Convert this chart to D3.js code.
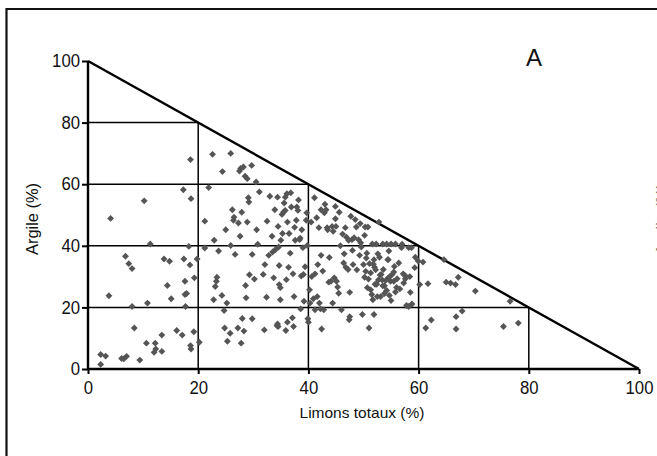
<!DOCTYPE html>
<html><head><meta charset="utf-8">
<script src="https://cdn.jsdelivr.net/npm/d3@7"></script>
<style>
html,body{margin:0;padding:0;background:#fff;overflow:hidden}
text{font-family:"Liberation Sans","Arial",sans-serif}
</style></head><body>
<svg id="c" width="657" height="456"></svg>
<script>
const xTicks = [0, 20, 40, 60, 80, 100];
const yTicks = [0, 20, 40, 60, 80, 100];
const gridLevels = [20, 40, 60, 80];
const xLabel = "Limons totaux (%)";
const yLabel = "Argile (%)";
const panelLabel = "A";
// Limons totaux (%)
const limons = [2.3,2.3,3.2,3.8,4.1,6.1,6.5,7.0,6.8,7.4,8.0,8.0,8.4,9.4,10.2,10.6,10.8,11.3,12.0,12.2,12.3,13.4,13.4,13.8,14.4,14.8,15.1,16.1,17.1,17.3,17.4,17.6,17.6,17.9,17.7,18.6,18.7,18.3,18.6,18.7,18.5,19.2,19.3,19.8,20.2,21.2,21.2,21.9,22.6,22.8,22.9,23.1,23.3,23.4,23.7,24.3,24.4,24.7,24.8,25.0,25.2,25.3,25.8,25.9,25.9,26.2,26.4,26.5,26.7,27.2,27.3,27.5,27.6,27.7,27.8,27.9,28.0,28.2,28.3,28.5,28.6,28.7,28.9,28.9,29.1,29.2,29.3,29.7,29.8,29.8,30.2,30.5,30.6,30.8,31.1,31.8,32.0,32.1,32.4,32.5,32.8,33.0,33.4,33.5,33.7,33.9,34.0,34.3,34.4,34.5,34.4,34.5,34.6,34.7,34.7,34.9,34.9,35.0,35.2,35.3,35.6,35.8,35.8,35.9,36.1,36.2,36.2,36.4,36.5,36.7,36.8,36.9,37.1,37.2,37.3,37.4,37.6,37.8,37.9,38.1,38.2,38.4,38.6,38.7,38.8,39.0,39.1,39.2,39.4,39.6,39.7,39.8,39.9,40.0,40.2,40.3,40.5,40.6,40.9,41.1,41.2,41.2,41.5,41.6,41.7,41.9,42.0,42.2,42.3,42.3,42.4,42.6,42.8,42.9,43.2,43.4,43.5,43.7,43.8,44.1,44.3,44.4,44.5,44.7,44.9,44.9,45.0,45.1,45.3,45.5,45.6,46.0,46.2,46.4,46.5,46.7,46.8,46.9,47.2,47.3,47.4,47.5,47.5,47.7,47.9,48.1,48.3,48.5,48.7,48.8,49.1,49.3,49.4,49.6,49.8,50.0,50.2,50.2,50.3,50.4,50.6,50.7,50.8,50.9,51.1,51.3,51.3,51.5,51.6,51.7,51.9,51.9,52.1,52.2,52.3,52.5,52.6,52.7,52.8,52.9,53.1,53.2,53.4,53.5,53.6,53.8,54.0,54.2,54.2,54.4,54.5,54.6,54.7,54.9,55.0,55.0,55.2,55.5,55.6,55.8,56.1,56.4,56.6,56.9,57.0,57.2,57.3,57.5,57.6,57.8,58.2,58.2,58.4,58.5,58.7,58.8,59.3,59.4,59.9,60.2,60.8,61.3,61.7,62.3,64.6,65.0,65.8,66.7,66.8,66.8,67.2,67.9,70.3,75.4,76.6,78.1,
 51.0,52.0,53.0,53.5,54.5,55.5,56.0,50.5,52.4,53.8,54.8,55.8,51.8,36.0,37.5,35.5,38.5,43.0,45.8,48.0,49.5];
// Argile (%)
const argile = [1.5,4.7,4.2,23.8,48.9,3.4,3.3,4.1,36.6,34.2,32.6,20.3,13.3,2.9,54.6,8.4,21.4,40.6,5.4,8.4,6.5,5.7,11.0,35.7,27.1,35.0,22.8,12.5,11.0,58.2,35.7,28.5,24.2,24.5,20.3,7.6,6.5,39.8,68.0,55.3,33.8,12.1,29.6,35.7,8.7,39.3,48.0,58.9,69.7,22.5,41.8,26.8,28.5,29.8,38.3,23.9,64.1,19.0,13.3,45.2,21.4,9.0,11.6,70.0,40.1,51.7,48.3,49.3,37.2,13.3,47.4,64.3,43.1,65.1,8.4,50.9,16.4,65.6,12.3,62.6,27.1,23.1,61.8,47.7,55.6,54.2,30.6,66.1,16.3,37.2,29.2,60.7,45.2,40.5,57.5,30.7,12.7,33.9,23.3,48.0,36.9,56.1,43.1,38.0,29.6,51.7,38.7,14.1,14.6,13.8,55.8,46.3,39.6,33.6,27.4,26.4,22.5,41.8,50.2,44.0,53.9,55.8,51.5,12.5,56.9,47.7,15.2,33.0,44.0,37.6,57.2,52.6,16.6,30.9,13.8,23.5,41.8,48.3,52.6,51.5,54.9,42.0,19.5,30.2,45.2,39.4,30.7,22.0,33.2,48.3,50.7,40.1,16.3,15.2,25.7,21.4,47.7,30.0,22.8,55.6,30.9,19.2,49.1,23.5,33.9,45.9,21.4,19.5,51.7,36.9,13.0,31.8,19.2,50.7,51.7,45.9,45.2,28.2,36.2,28.5,46.3,21.4,44.7,29.6,52.8,48.8,46.3,28.5,26.6,24.6,50.9,19.2,43.8,34.4,37.4,45.9,33.0,42.8,32.3,41.8,16.0,17.0,24.9,49.6,42.0,33.9,42.6,48.5,46.1,32.2,42.0,36.9,47.2,39.6,17.7,33.9,43.4,29.8,46.1,31.7,37.6,26.4,46.1,29.2,34.2,25.7,31.2,24.2,40.6,22.5,35.5,17.7,27.5,32.2,40.6,23.5,37.4,28.9,47.7,36.3,23.5,30.7,28.9,40.6,32.3,27.0,28.7,40.6,25.5,35.5,29.6,38.3,23.9,28.5,40.6,22.2,30.7,28.5,33.3,40.6,29.3,34.4,26.0,39.4,40.5,30.9,27.9,30.4,29.3,20.6,39.4,20.3,30.0,24.9,39.4,21.1,32.9,36.3,35.1,27.4,34.7,13.3,27.7,15.9,35.5,28.2,27.9,27.4,13.0,17.0,29.8,18.8,25.3,13.8,22.0,14.9,13.3,
 33.0,30.5,27.0,35.5,31.5,26.5,36.0,27.5,24.5,30.0,25.0,34.0,29.0,46.0,51.0,42.5,53.5,40.0,38.5,41.0,44.5];

const W = 657, H = 456;
const svg = d3.select("#c");
const x = d3.scaleLinear().domain([0, 100]).range([88, 639]);
const y = d3.scaleLinear().domain([0, 100]).range([369, 61]);

// outer frame (top and left visible, cropped at right/bottom)
svg.append("path").attr("d", `M6.5,${H+5} V9 H${W+5}`).attr("fill", "none").attr("stroke", "#111").attr("stroke-width", 2.2);

const g = svg.append("g");
gridLevels.forEach(v => {
  g.append("line").attr("x1", x(0)).attr("x2", x(100 - v)).attr("y1", y(v)).attr("y2", y(v))
    .attr("stroke", "#000").attr("stroke-width", 1.5);
  g.append("line").attr("x1", x(v)).attr("x2", x(v)).attr("y1", y(0)).attr("y2", y(100 - v))
    .attr("stroke", "#000").attr("stroke-width", 1.5);
});
g.append("line").attr("x1", x(0)).attr("y1", y(100)).attr("x2", x(100)).attr("y2", y(0))
  .attr("stroke", "#000").attr("stroke-width", 2.4);

const xAxis = d3.axisBottom(x).tickValues(xTicks).tickSize(5).tickPadding(7);
const yAxis = d3.axisLeft(y).tickValues(yTicks).tickSize(6).tickPadding(2);
const gx = svg.append("g").attr("transform", `translate(0,${y(0)})`).call(xAxis);
const gy = svg.append("g").attr("transform", `translate(${x(0)},0)`).call(yAxis);
[gx, gy].forEach(a => {
  a.select(".domain").attr("stroke", "#000").attr("stroke-width", 2.4);
  a.selectAll(".tick line").attr("stroke", "#000").attr("stroke-width", 2);
  a.selectAll(".tick text").attr("font-size", 18).attr("fill", "#111")
    .style("font-family", '"Liberation Sans",Arial,sans-serif')
    .attr("textLength", d => String(d).length * 9.3)
    .attr("lengthAdjust", "spacingAndGlyphs");
});
gx.select(".domain").attr("d", `M${x(0)},0H${x(100)}`);
gy.select(".domain").attr("d", `M0,${y(0)}V${y(100)}`);

const pts = limons.map((v, i) => ({ l: v, a: argile[i] }));
svg.append("g").selectAll("path").data(pts).join("path")
  .attr("d", d3.symbol().type(d3.symbolDiamond2).size(30))
  .attr("transform", d => `translate(${x(d.l)},${y(d.a)})`)
  .attr("fill", "#555");

svg.append("text").attr("x", 362).attr("y", 418).attr("text-anchor", "middle")
  .attr("font-size", 15).attr("fill", "#111")
  .attr("textLength", 125).attr("lengthAdjust", "spacingAndGlyphs").text(xLabel);
svg.append("text").attr("transform", `translate(38,219) rotate(-90)`).attr("text-anchor", "middle")
  .attr("font-size", 16).attr("fill", "#111")
  .attr("textLength", 72).attr("lengthAdjust", "spacingAndGlyphs").text(yLabel);
svg.append("text").attr("x", 534).attr("y", 66).attr("text-anchor", "middle")
  .attr("font-size", 24).attr("fill", "#111").text(panelLabel);
// neighbouring panel's label, cropped at the right edge
svg.append("text").attr("transform", `translate(668,219) rotate(-90)`).attr("text-anchor", "middle")
  .attr("font-size", 16).attr("fill", "#777")
  .attr("textLength", 72).attr("lengthAdjust", "spacingAndGlyphs").text(yLabel);
</script>
</body></html>
